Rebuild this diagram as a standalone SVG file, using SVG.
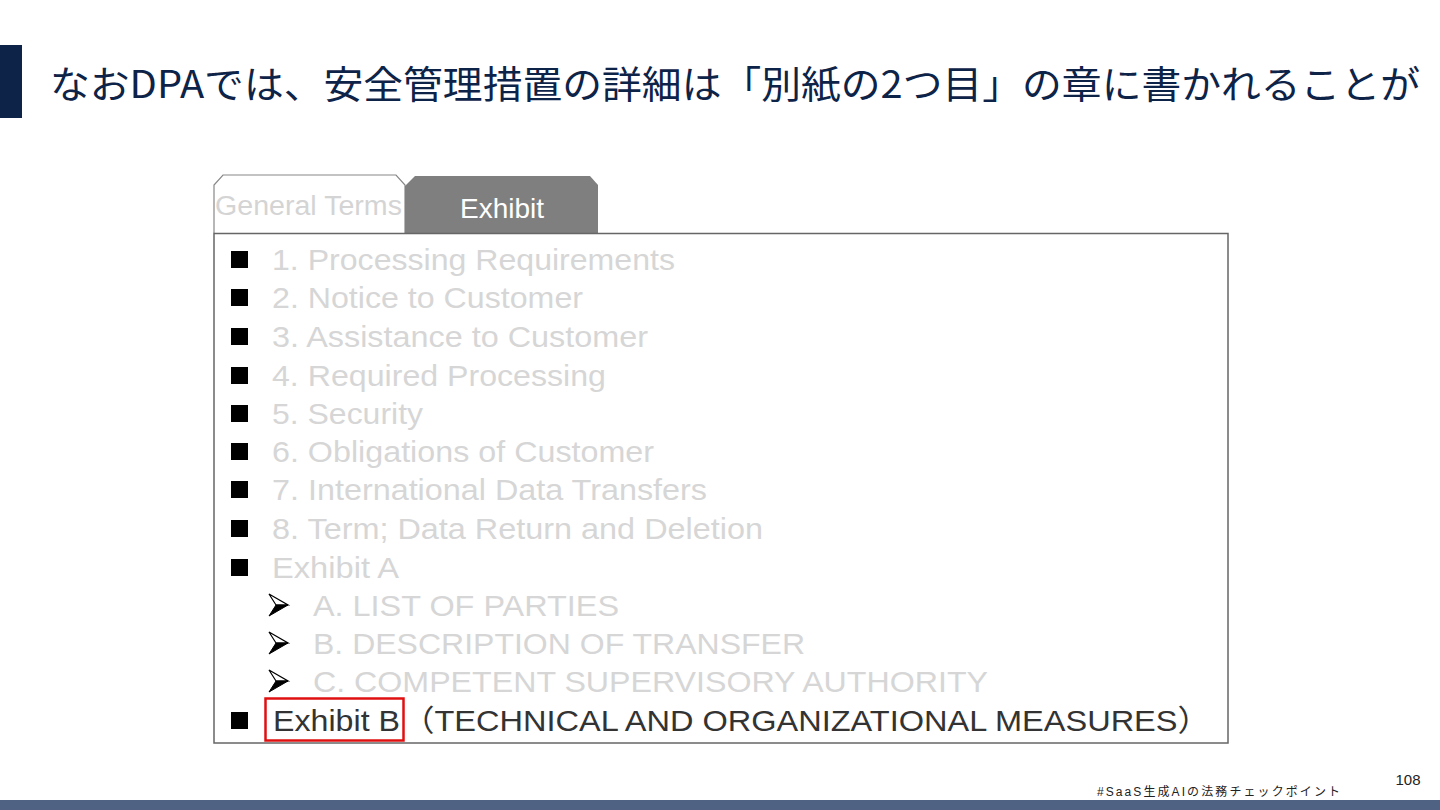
<svg xmlns="http://www.w3.org/2000/svg" width="1440" height="810" viewBox="0 0 1440 810">
<defs>
<g id="arrowbullet">
<path d="M0,0 L19,11 L7,11 Z" fill="#fff" stroke="#000" stroke-width="1.2" stroke-linejoin="miter"/>
<path d="M7,11 L19,11 L0,22 Z" fill="#000" stroke="#000" stroke-width="1"/>
</g>
</defs>
<style>
.title{font-family:"Noto Sans CJK JP","Liberation Sans",sans-serif;font-size:38px;fill:#0e2348}
.item{font-family:"Liberation Sans","Noto Sans CJK JP",sans-serif;font-size:30px;fill:#d6d6d6}
.dark{fill:#333}
.sq{fill:#000}
.foot{font-family:"Liberation Sans","Noto Sans CJK JP",sans-serif;fill:#222}
</style>
<rect x="0" y="45" width="22" height="73" fill="#0e2348"/>
<text class="title" x="50" y="98" textLength="1370" lengthAdjust="spacingAndGlyphs">なおDPAでは、安全管理措置の詳細は「別紙の2つ目」の章に書かれることが</text>

<g id="tab-general">
<path d="M214,233 V185 L223,175 H396 L405,185 V233" fill="#fff" stroke="#888" stroke-width="1.2"/>
<text x="215" y="215" font-family="Liberation Sans,sans-serif" font-size="27" fill="#d4d4d4" textLength="187" lengthAdjust="spacingAndGlyphs">General Terms</text>
</g>
<g id="tab-exhibit">
<path d="M405,233 V186 L415,176 H590 L598,185 V233 Z" fill="#7f7f7f"/>
<text x="502" y="218" text-anchor="middle" font-family="Liberation Sans,sans-serif" font-size="28" fill="#fff">Exhibit</text>
</g>

<g id="content-box">
<rect x="214" y="233.5" width="1014" height="509.5" fill="#fff" stroke="#666" stroke-width="1.5"/>
</g>

<g id="list">
<rect class="sq" x="231" y="251" width="17" height="17"/>
<text class="item" x="272" y="270" textLength="403" lengthAdjust="spacingAndGlyphs">1. Processing Requirements</text>
<rect class="sq" x="231" y="289" width="17" height="17"/>
<text class="item" x="272" y="308" textLength="311" lengthAdjust="spacingAndGlyphs">2. Notice to Customer</text>
<rect class="sq" x="231" y="328" width="17" height="17"/>
<text class="item" x="272" y="347" textLength="376" lengthAdjust="spacingAndGlyphs">3. Assistance to Customer</text>
<rect class="sq" x="231" y="367" width="17" height="17"/>
<text class="item" x="272" y="386" textLength="334" lengthAdjust="spacingAndGlyphs">4. Required Processing</text>
<rect class="sq" x="231" y="405" width="17" height="17"/>
<text class="item" x="272" y="424" textLength="151" lengthAdjust="spacingAndGlyphs">5. Security</text>
<rect class="sq" x="231" y="443" width="17" height="17"/>
<text class="item" x="272" y="462" textLength="382" lengthAdjust="spacingAndGlyphs">6. Obligations of Customer</text>
<rect class="sq" x="231" y="481" width="17" height="17"/>
<text class="item" x="272" y="500" textLength="435" lengthAdjust="spacingAndGlyphs">7. International Data Transfers</text>
<rect class="sq" x="231" y="520" width="17" height="17"/>
<text class="item" x="272" y="539" textLength="491" lengthAdjust="spacingAndGlyphs">8. Term; Data Return and Deletion</text>
<rect class="sq" x="231" y="559" width="17" height="17"/>
<text class="item" x="272" y="578" textLength="127" lengthAdjust="spacingAndGlyphs">Exhibit A</text>
<use href="#arrowbullet" x="269" y="594"/>
<text class="item" x="313" y="616" textLength="306" lengthAdjust="spacingAndGlyphs">A. LIST OF PARTIES</text>
<use href="#arrowbullet" x="269" y="632"/>
<text class="item" x="313" y="654" textLength="492" lengthAdjust="spacingAndGlyphs">B. DESCRIPTION OF TRANSFER</text>
<use href="#arrowbullet" x="269" y="670"/>
<text class="item" x="313" y="692" textLength="675" lengthAdjust="spacingAndGlyphs">C. COMPETENT SUPERVISORY AUTHORITY</text>
<rect class="sq" x="231" y="712" width="17" height="17"/>
<text class="item dark" x="273" y="731" textLength="127" lengthAdjust="spacingAndGlyphs">Exhibit B</text>
<text class="item dark" x="402" y="731" textLength="808" lengthAdjust="spacingAndGlyphs">（TECHNICAL AND ORGANIZATIONAL MEASURES）</text>
<rect x="265.5" y="698.5" width="138" height="42" fill="none" stroke="#e01010" stroke-width="2.5"/>
</g>

<text class="foot" x="1408" y="785" text-anchor="middle" font-size="15">108</text>
<text class="foot" x="1097" y="796" font-size="12" textLength="243" lengthAdjust="spacing">#SaaS生成AIの法務チェックポイント</text>
<rect x="0" y="800" width="1440" height="10" fill="#4f6283"/>
</svg>
